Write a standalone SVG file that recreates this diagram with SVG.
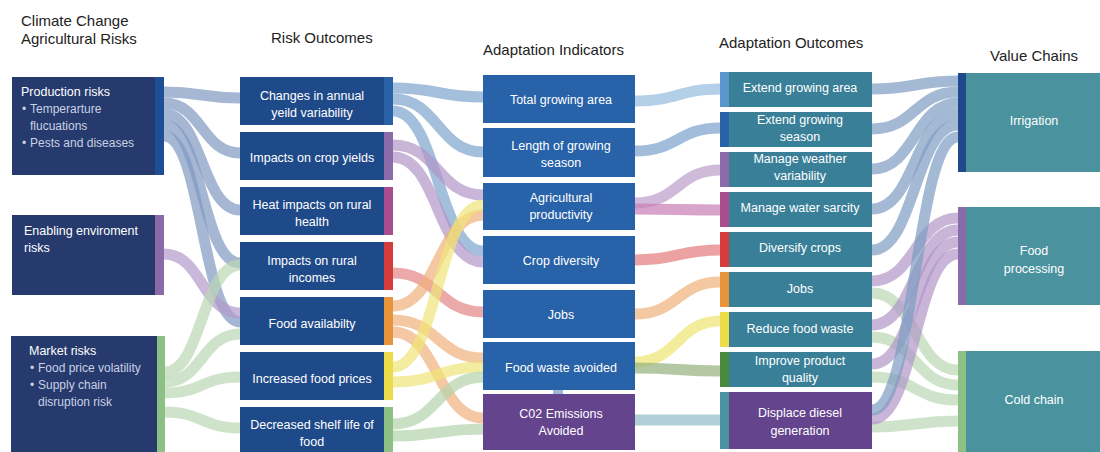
<svg xmlns="http://www.w3.org/2000/svg" width="1100" height="452" viewBox="0 0 1100 452">
<style>
.h{font-family:"Liberation Sans",Arial,sans-serif;font-size:15px;fill:#222}
.t{font-family:"Liberation Sans",Arial,sans-serif;font-size:12.5px;fill:#fff;text-anchor:middle}
.l{font-family:"Liberation Sans",Arial,sans-serif;font-size:12.5px;fill:#fff}
.b{font-family:"Liberation Sans",Arial,sans-serif;font-size:12px;fill:#c9d1e3}
.lk path{fill:none;stroke-width:11;stroke-opacity:0.7}
.c1{fill:#263a6e}.c2{fill:#1f4a8a}.c3{fill:#2862a8}.c4{fill:#3a7f98}.c5{fill:#4a929e}.pu{fill:#65448e}
</style>
<g id="titles">
<text class="h" x="21" y="26">Climate Change</text>
<text class="h" x="21" y="44">Agricultural Risks</text>
<text class="h" x="271" y="43">Risk Outcomes</text>
<text class="h" x="483" y="55">Adaptation Indicators</text>
<text class="h" x="719" y="48">Adaptation Outcomes</text>
<text class="h" x="990" y="61">Value Chains</text>
</g>
<g id="connectors" class="lk">
<g stroke="#8099c2">
<path d="M164 92 C202 92 202 98 240 98"/>
<path d="M164 103 C202 103 202 153 240 153"/>
<path d="M164 114 C202 114 202 210 240 210"/>
<path d="M164 125 C202 125 202 263 240 263"/>
<path d="M164 136 C202 136 202 322 240 322"/>
</g>
<path stroke="#b29aca" d="M164 254 C202 254 202 313 240 313"/>
<g stroke="#bad7b5">
<path d="M165 372 C202 372 202 265 240 265"/>
<path d="M165 382 C202 382 202 334 240 334"/>
<path d="M165 393 C202 393 202 377 240 377"/>
<path d="M165 412 C202 412 202 428 240 428"/>
</g>
<g stroke="#7da4cd">
<path d="M393 88 C438 88 438 97 483 97"/>
<path d="M393 99 C438 99 438 152 483 152"/>
<path d="M393 111 C438 111 438 251 483 251"/>
</g>
<g stroke="#b096c8">
<path d="M393 145 C438 145 438 195 483 195"/>
<path d="M393 157 C438 157 438 262 483 262"/>
</g>
<path stroke="#e48485" d="M393 273 C438 273 438 312 483 312"/>
<g stroke="#efb07a">
<path d="M393 306 C438 306 438 215 483 215"/>
<path d="M393 320 C438 320 438 358 483 358"/>
<path d="M393 332 C438 332 438 418 483 418"/>
</g>
<g stroke="#efe477">
<path d="M393 367 C438 367 438 205 483 205"/>
<path d="M393 382 C438 382 438 367 483 367"/>
</g>
<g stroke="#b3d3ad">
<path d="M393 424 C438 424 438 377 483 377"/>
<path d="M393 436 C438 436 438 429 483 429"/>
</g>
<path stroke="#94bade" d="M635 101 C678 101 678 89 720 89"/>
<path stroke="#7ba0cc" d="M635 151 C678 151 678 128 720 128"/>
<path stroke="#bc9cca" d="M635 203 C678 203 678 170 720 170"/>
<path stroke="#c77db6" d="M635 209 C678 209 678 210 720 210"/>
<path stroke="#e47b7b" d="M635 260 C678 260 678 250 720 250"/>
<path stroke="#f0b079" d="M635 314 C678 314 678 282 720 282"/>
<path stroke="#eee671" d="M635 362 C678 362 678 321 720 321"/>
<path stroke="#94b07d" d="M635 368 C678 368 678 371 720 371"/>
<path stroke="#8ebcc7" d="M635 420 C678 420 678 420 720 420"/>
<g stroke="#bad7b5">
<path d="M872 293 C915 293 915 370 958 370"/>
<path d="M872 337 C915 337 915 385 958 385"/>
<path d="M872 377 C915 377 915 400 958 400"/>
<path d="M872 427 C915 427 915 421 958 421"/>
</g>
<g stroke="#b096c8">
<path d="M872 281 C915 281 915 218 958 218"/>
<path d="M872 325 C915 325 915 230 958 230"/>
<path d="M872 364 C915 364 915 242 958 242"/>
<path d="M872 419 C915 419 915 254 958 254"/>
</g>
<g stroke="#7d9bc2">
<path d="M872 89 C915 89 915 81 958 81"/>
<path d="M872 129 C915 129 915 92 958 92"/>
<path d="M872 169 C915 169 915 103 958 103"/>
<path d="M872 209 C915 209 915 114 958 114"/>
<path d="M872 250 C915 250 915 125 958 125"/>
<path d="M872 410 C915 410 915 137 958 137"/>
</g>
<rect x="553" y="389" width="10" height="5" fill="#a0b8d8"/>
</g>
<g id="n-production">
<rect class="c1" x="12" y="77" width="152" height="98"/>
<rect x="155" y="77" width="9" height="98" fill="#1e4e96"/>
<text class="l" x="21" y="96">Production risks</text>
<text class="b" x="22" y="113">•</text><text class="b" x="30" y="113">Temperarture</text>
<text class="b" x="30" y="130">flucuations</text>
<text class="b" x="22" y="147">•</text><text class="b" x="30" y="147">Pests and diseases</text>
</g>
<g id="n-enabling">
<rect class="c1" x="12" y="215" width="152" height="80"/>
<rect x="155" y="215" width="9" height="80" fill="#8a6aa8"/>
<text class="l" x="24" y="235">Enabling enviroment</text>
<text class="l" x="24" y="252">risks</text>
</g>
<g id="n-market">
<rect class="c1" x="11" y="336" width="154" height="116"/>
<rect x="157" y="336" width="8" height="116" fill="#8cc084"/>
<text class="l" x="29" y="355">Market risks</text>
<text class="b" x="30" y="372">•</text><text class="b" x="38" y="372">Food price volatility</text>
<text class="b" x="30" y="389">•</text><text class="b" x="38" y="389">Supply chain</text>
<text class="b" x="38" y="406">disruption risk</text>
</g>
<g id="n-changes">
<rect class="c2" x="240" y="77" width="153" height="48"/>
<rect x="384" y="77" width="9" height="48" fill="#2a62a8"/>
<text class="t" x="312" y="100">Changes in annual</text>
<text class="t" x="312" y="117">yeild variability</text>
</g>
<g id="n-cropyields">
<rect class="c2" x="240" y="132" width="153" height="48"/>
<rect x="384" y="132" width="9" height="48" fill="#8a6aa8"/>
<text class="t" x="312" y="162">Impacts on crop yields</text>
</g>
<g id="n-heat">
<rect class="c2" x="240" y="187" width="153" height="48"/>
<rect x="384" y="187" width="9" height="48" fill="#a84d8e"/>
<text class="t" x="312" y="209">Heat impacts on rural</text>
<text class="t" x="312" y="226">health</text>
</g>
<g id="n-incomes">
<rect class="c2" x="240" y="242" width="153" height="48"/>
<rect x="384" y="242" width="9" height="48" fill="#d63c3c"/>
<text class="t" x="312" y="265">Impacts on rural</text>
<text class="t" x="312" y="282">incomes</text>
</g>
<g id="n-foodavail">
<rect class="c2" x="240" y="297" width="153" height="48"/>
<rect x="384" y="297" width="9" height="48" fill="#e8943a"/>
<text class="t" x="312" y="328">Food availabilty</text>
</g>
<g id="n-prices">
<rect class="c2" x="240" y="352" width="153" height="48"/>
<rect x="384" y="352" width="9" height="48" fill="#ecdc4a"/>
<text class="t" x="312" y="383">Increased food prices</text>
</g>
<g id="n-shelf">
<rect class="c2" x="240" y="407" width="153" height="45"/>
<rect x="384" y="407" width="9" height="45" fill="#8cc084"/>
<text class="t" x="312" y="429">Decreased shelf life of</text>
<text class="t" x="312" y="446">food</text>
</g>
<g id="n-totalarea">
<rect class="c3" x="483" y="75" width="152" height="48"/>
<text class="t" x="561" y="104">Total growing area</text>
</g>
<g id="n-length">
<rect class="c3" x="483" y="128" width="152" height="49"/>
<text class="t" x="561" y="150">Length of growing</text>
<text class="t" x="561" y="167">season</text>
</g>
<g id="n-agprod">
<rect class="c3" x="483" y="183" width="152" height="47"/>
<text class="t" x="561" y="202">Agricultural</text>
<text class="t" x="561" y="219">productivity</text>
</g>
<g id="n-cropdiv">
<rect class="c3" x="483" y="236" width="152" height="48"/>
<text class="t" x="561" y="265">Crop diversity</text>
</g>
<g id="n-jobs3">
<rect class="c3" x="483" y="290" width="152" height="48"/>
<text class="t" x="561" y="319">Jobs</text>
</g>
<g id="n-foodwaste">
<rect class="c3" x="483" y="342" width="152" height="48"/>
<text class="t" x="561" y="372">Food waste avoided</text>
</g>
<g id="n-co2">
<rect class="pu" x="483" y="394" width="152" height="56"/>
<text class="t" x="561" y="418">C02 Emissions</text>
<text class="t" x="561" y="435">Avoided</text>
</g>
<g id="n-extarea">
<rect class="c4" x="720" y="72" width="152" height="35"/>
<rect x="720" y="72" width="9" height="35" fill="#5a96cc"/>
<text class="t" x="800" y="92">Extend growing area</text>
</g>
<g id="n-extseason">
<rect class="c4" x="720" y="112" width="152" height="35"/>
<rect x="720" y="112" width="9" height="35" fill="#2a62a8"/>
<text class="t" x="800" y="124">Extend growing</text>
<text class="t" x="800" y="141">season</text>
</g>
<g id="n-weather">
<rect class="c4" x="720" y="152" width="152" height="35"/>
<rect x="720" y="152" width="9" height="35" fill="#8a6aa8"/>
<text class="t" x="800" y="163">Manage weather</text>
<text class="t" x="800" y="180">variability</text>
</g>
<g id="n-water">
<rect class="c4" x="720" y="192" width="152" height="35"/>
<rect x="720" y="192" width="9" height="35" fill="#a84d8e"/>
<text class="t" x="800" y="212">Manage water sarcity</text>
</g>
<g id="n-diversify">
<rect class="c4" x="720" y="232" width="152" height="35"/>
<rect x="720" y="232" width="9" height="35" fill="#d63c3c"/>
<text class="t" x="800" y="252">Diversify crops</text>
</g>
<g id="n-jobs4">
<rect class="c4" x="720" y="272" width="152" height="35"/>
<rect x="720" y="272" width="9" height="35" fill="#e8943a"/>
<text class="t" x="800" y="293">Jobs</text>
</g>
<g id="n-reduce">
<rect class="c4" x="720" y="312" width="152" height="35"/>
<rect x="720" y="312" width="9" height="35" fill="#ecdc4a"/>
<text class="t" x="800" y="333">Reduce food waste</text>
</g>
<g id="n-quality">
<rect class="c4" x="720" y="352" width="152" height="35"/>
<rect x="720" y="352" width="9" height="35" fill="#4a8a3c"/>
<text class="t" x="800" y="365">Improve product</text>
<text class="t" x="800" y="382">quality</text>
</g>
<g id="n-diesel">
<rect class="pu" x="720" y="392" width="152" height="57"/>
<rect x="720" y="392" width="9" height="57" fill="#4a94a0"/>
<text class="t" x="800" y="417">Displace diesel</text>
<text class="t" x="800" y="435">generation</text>
</g>
<g id="n-irrigation">
<rect class="c5" x="958" y="73" width="142" height="99"/>
<rect x="958" y="73" width="8" height="99" fill="#1e4a8c"/>
<text class="t" x="1034" y="125">Irrigation</text>
</g>
<g id="n-processing">
<rect class="c5" x="958" y="207" width="142" height="98"/>
<rect x="958" y="207" width="8" height="98" fill="#8a6aa8"/>
<text class="t" x="1034" y="255">Food</text>
<text class="t" x="1034" y="273">processing</text>
</g>
<g id="n-coldchain">
<rect class="c5" x="958" y="351" width="142" height="101"/>
<rect x="958" y="351" width="8" height="101" fill="#8cc084"/>
<text class="t" x="1034" y="404">Cold chain</text>
</g>
</svg>
